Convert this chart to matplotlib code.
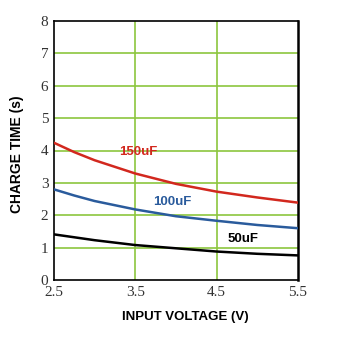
import matplotlib
matplotlib.use("Agg")
import matplotlib.pyplot as plt

voltage = [2.5, 2.75, 3.0, 3.5, 4.0, 4.5, 5.0, 5.5]
t_150uF = [4.24, 3.95, 3.70, 3.29, 2.97, 2.73, 2.55, 2.39]
t_100uF = [2.80, 2.61, 2.44, 2.18, 1.97, 1.83, 1.70, 1.60]
t_50uF = [1.41, 1.32, 1.23, 1.08, 0.98, 0.88, 0.81, 0.76]
x_ticks = [2.5, 3.5, 4.5, 5.5]
x_ticklabels = ["2.5", "3.5", "4.5", "5.5"]
y_ticks = [0, 1, 2, 3, 4, 5, 6, 7, 8]

fig = plt.figure(figsize=(3.5, 3.44), dpi=100)
ax = fig.add_axes([0.154, 0.186, 0.697, 0.753])

grid_c = "#8cc63e"
for v in [3.5, 4.5]:
    ax.axvline(v, color=grid_c, lw=1.2, zorder=1)
for h in range(1, 8):
    ax.axhline(h, color=grid_c, lw=1.2, zorder=1)

ax.plot(voltage, t_150uF, color="#d2281e", lw=1.8, zorder=3)
ax.plot(voltage, t_100uF, color="#2a5b9c", lw=1.8, zorder=3)
ax.plot(voltage, t_50uF, color="#000000", lw=1.8, zorder=3)

lab_font = dict(family="Liberation Sans", fontweight="bold", fontsize=9.5,
                va="center")
ax.text(3.30, 3.95, "150uF", color="#d2281e", zorder=4, **lab_font)
ax.text(3.72, 2.40, "100uF", color="#2a5b9c", zorder=4, **lab_font)
ax.text(4.63, 1.27, "50uF", color="#000000", zorder=4, **lab_font)

ax.set_xlim(2.5, 5.5)
ax.set_ylim(0, 8)
ax.set_xticks(x_ticks)
ax.set_xticklabels(x_ticklabels)
ax.set_yticks(y_ticks)
ax.tick_params(length=0, labelsize=11, labelcolor="#333333", pad=4)
for lbl in ax.get_xticklabels() + ax.get_yticklabels():
    lbl.set_family("Liberation Serif")
for s in ax.spines.values():
    s.set_color("black")
    s.set_linewidth(1.2)
ax.spines["right"].set_linewidth(1.8)

ax.set_xlabel("INPUT VOLTAGE (V)", family="Liberation Sans", fontweight="bold",
              fontsize=9.5, va="center")
ax.set_ylabel("CHARGE TIME (s)", family="Liberation Sans", fontweight="bold",
              fontsize=10, va="center")
ax.xaxis.set_label_coords(0.537, -0.143)
ax.yaxis.set_label_coords(-0.152, 0.486)

fig.savefig("out.png", dpi=100)
